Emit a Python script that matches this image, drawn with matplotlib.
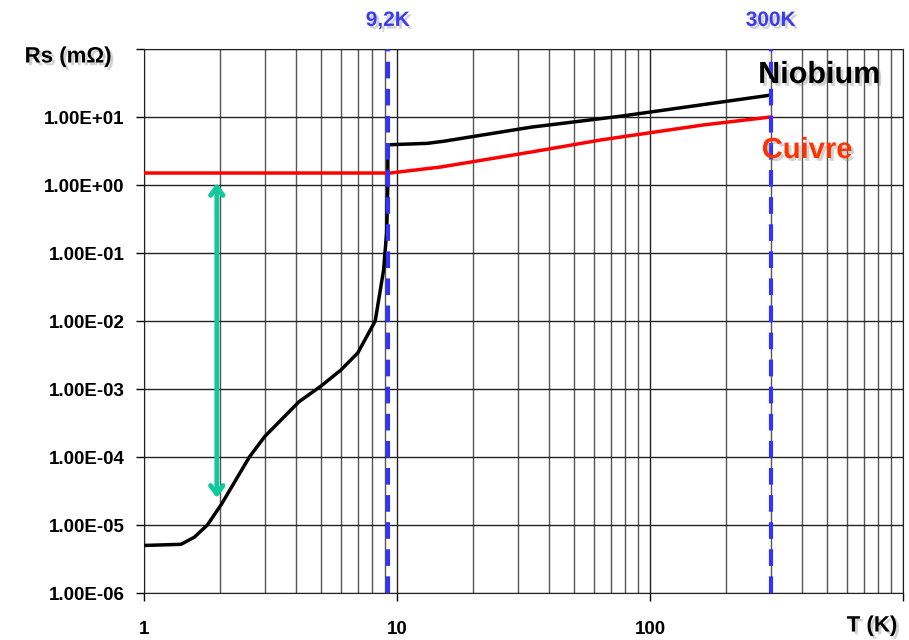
import matplotlib.pyplot as plt
import matplotlib.ticker as mticker
import matplotlib.patheffects as pe

# Niobium surface resistance (mOhm) vs temperature (K)
nb_T = [1.0, 1.40, 1.58, 1.78, 2.02, 2.61, 3.0, 4.1, 5.0, 6.0, 7.0, 8.2, 8.85, 9.1, 9.2, 9.2, 13.2, 15.3, 34, 77, 300]
nb_Rs = [5.0e-6, 5.2e-6, 6.6e-6, 1.0e-5, 2.0e-5, 1.0e-4, 2.0e-4, 6.5e-4, 1.1e-3, 1.9e-3, 3.4e-3, 1.0e-2, 5.6e-2, 0.2, 1.0, 3.9, 4.1, 4.4, 7.1, 10.3, 21]

# Copper
cu_T = [1.0, 9.4, 14.9, 34, 64, 161, 300]
cu_Rs = [1.5, 1.5, 1.84, 3.06, 4.6, 7.6, 10.0]

marker_T = [9.2, 300]
marker_labels = ["9,2K", "300K"]

arrow_T = 1.94
arrow_Rs = (1.07, 2.5e-5)

x_major = [1, 10, 100, 1000]
x_labels = ["1", "10", "100", ""]
x_minor = [m * d for d in (1, 10, 100) for m in range(2, 10)]
y_major = [1e-6, 1e-5, 1e-4, 1e-3, 1e-2, 1e-1, 1e0, 1e1, 1e2]
y_labels = [f"{v:.2E}" for v in y_major[:-1]] + [""]

plt.rcParams["font.family"] = ["Liberation Sans", "DejaVu Sans"]

fig = plt.figure(figsize=(9.09, 6.4), dpi=100)
ax = fig.add_axes([144 / 909, 47 / 640, 759 / 909, 544 / 640])

shadow = [pe.withSimplePatchShadow(offset=(2, -2), shadow_rgbFace="gray", alpha=0.35)]

ax.set_xscale("log")
ax.set_yscale("log")
ax.set_xlim(1, 1000)
ax.set_ylim(1e-6, 1e2)

ax.set_xticks(x_major, x_labels)
ax.set_xticks(x_minor, minor=True)
ax.set_yticks(y_major, y_labels)
ax.yaxis.set_minor_locator(mticker.NullLocator())

ax.grid(True, which="major", axis="both", color="#222222", lw=1)
ax.grid(True, which="minor", axis="x", color="#555555", lw=1)
ax.set_axisbelow(True)

ax.plot(cu_T, cu_Rs, color="#ff0000", lw=2.5, zorder=3)
ax.plot(nb_T, nb_Rs, color="black", lw=2.5, zorder=3)

for t, lab in zip(marker_T, marker_labels):
    ax.axvline(t, color="#3333ff", lw=3, linestyle=(0, (4, 2.5)), zorder=4)
    ax.text(t, 1.035, lab, transform=ax.get_xaxis_transform(), ha="center", va="bottom",
            fontsize=15, fontweight="bold", color="#3b3bf0", path_effects=shadow)

ax.annotate("", xy=(arrow_T, arrow_Rs[1]), xytext=(arrow_T, arrow_Rs[0]),
            arrowprops=dict(arrowstyle="<->,head_length=0.6,head_width=0.45",
                            color="#12c99b", lw=3.5, shrinkA=0, shrinkB=0), zorder=5)

ax.tick_params(axis="both", which="major", length=6, width=1, labelsize=13.5)
ax.tick_params(axis="y", pad=8)
ax.tick_params(axis="x", pad=14)
ax.tick_params(axis="x", which="minor", length=0)
for lab in ax.get_xticklabels() + ax.get_yticklabels():
    lab.set_fontweight("bold")

for s in ax.spines.values():
    s.set_color("#222222")

fig.text(68 / 909, 1 - 57 / 640, "Rs (m\u03a9)", ha="center", va="center",
         fontsize=16, fontweight="bold", path_effects=shadow)
fig.text(872 / 909, 1 - 626 / 640, "T (K)", ha="center", va="center",
         fontsize=16, fontweight="bold", path_effects=shadow)
fig.text(819 / 909, 1 - 75 / 640, "Niobium", ha="center", va="center",
         fontsize=22, fontweight="bold", color="black", path_effects=shadow)
fig.text(807 / 909, 1 - 150 / 640, "Cuivre", ha="center", va="center",
         fontsize=21, fontweight="bold", color="#ff3300", path_effects=shadow)

fig.savefig("out.png", dpi=100)
